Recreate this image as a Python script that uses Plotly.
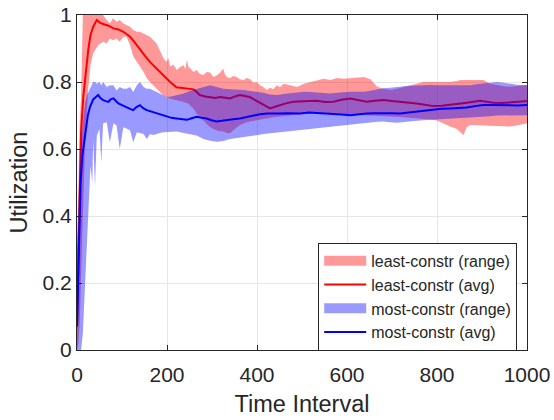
import plotly.graph_objects as go

# ---------------- data ----------------
red_avg_x = [0, 3, 6, 9, 14, 20, 25, 30, 36, 44, 50, 58, 70, 81, 92, 103, 118, 130, 140, 151, 162, 173,
             184, 196, 207, 221, 232, 244, 259, 266, 273, 285, 296, 307, 318, 329, 340, 351, 362, 373,
             384, 396, 407, 418, 429, 440, 451, 466, 481, 496, 515, 533, 551, 570, 588, 607, 625, 644,
             662, 681, 700, 718, 736, 755, 773, 792, 810, 829, 848, 866, 881, 896, 910, 925, 944, 962,
             981, 1000]
red_avg_y = [0.07, 0.30, 0.50, 0.65, 0.756, 0.84, 0.896, 0.94, 0.965, 0.985, 0.978, 0.973, 0.968, 0.96,
             0.957, 0.95, 0.935, 0.915, 0.896, 0.878, 0.86, 0.845, 0.83, 0.815, 0.80, 0.784, 0.782,
             0.781, 0.778, 0.770, 0.761, 0.757, 0.754, 0.752, 0.755, 0.753, 0.751, 0.757, 0.761, 0.758,
             0.755, 0.746, 0.737, 0.728, 0.721, 0.726, 0.731, 0.737, 0.741, 0.741, 0.743, 0.744, 0.740,
             0.741, 0.747, 0.751, 0.746, 0.741, 0.744, 0.746, 0.743, 0.741, 0.739, 0.736, 0.732, 0.728,
             0.729, 0.731, 0.735, 0.738, 0.742, 0.744, 0.741, 0.738, 0.737, 0.738, 0.741, 0.743]

blue_avg_x = [0, 2, 4, 6, 8, 12, 18, 24, 29, 36, 42, 47, 52, 58, 64, 70, 75, 81, 86, 92, 100, 110, 118,
              125, 132, 140, 147, 155, 166, 177, 188, 199, 210, 221, 233, 244, 255, 266, 277, 288, 299,
              310, 322, 333, 347, 362, 377, 392, 407, 422, 437, 451, 466, 481, 496, 515, 533, 551, 570,
              588, 607, 625, 644, 662, 681, 700, 718, 736, 755, 773, 792, 810, 829, 848, 866, 884, 903,
              922, 940, 960, 980, 1000]
blue_avg_y = [0.07, 0.20, 0.33, 0.42, 0.50, 0.58, 0.647, 0.70, 0.726, 0.748, 0.755, 0.761, 0.752, 0.746,
              0.743, 0.741, 0.748, 0.751, 0.744, 0.736, 0.731, 0.726, 0.720, 0.716, 0.725, 0.731, 0.722,
              0.716, 0.711, 0.706, 0.701, 0.696, 0.693, 0.691, 0.689, 0.687, 0.692, 0.696, 0.693, 0.691,
              0.686, 0.682, 0.684, 0.687, 0.689, 0.691, 0.696, 0.701, 0.704, 0.706, 0.705, 0.706, 0.707,
              0.706, 0.706, 0.709, 0.708, 0.707, 0.706, 0.703, 0.701, 0.704, 0.706, 0.707, 0.708, 0.707,
              0.706, 0.709, 0.711, 0.715, 0.718, 0.720, 0.721, 0.722, 0.724, 0.728, 0.731, 0.731, 0.730,
              0.731, 0.730, 0.731]

# (time, lower, upper)
red_range_rows = [
    (0, 0.00, 0.30), (3, 0.02, 0.55), (6, 0.08, 0.68), (9, 0.18, 0.75), (13, 0.40, 1.00),
    (18, 0.62, 1.00), (25, 0.78, 1.00), (30, 0.85, 1.00), (36, 0.886, 1.00), (47, 0.91, 1.00),
    (58, 0.92, 1.00), (66, 0.915, 0.985), (73, 0.93, 0.975), (80, 0.925, 0.99), (88, 0.93, 0.98),
    (95, 0.92, 0.985), (103, 0.935, 0.975), (110, 0.935, 0.97), (118, 0.91, 0.965), (125, 0.876, 0.955),
    (133, 0.86, 0.95), (140, 0.846, 0.95), (148, 0.83, 0.945), (155, 0.811, 0.94), (162, 0.80, 0.935),
    (170, 0.79, 0.925), (177, 0.781, 0.915), (184, 0.77, 0.895), (192, 0.76, 0.871), (199, 0.756, 0.86),
    (203, 0.754, 0.872), (207, 0.75, 0.846), (214, 0.748, 0.852), (222, 0.746, 0.836), (229, 0.743, 0.845),
    (237, 0.74, 0.85), (241, 0.739, 0.838), (244, 0.737, 0.866), (248, 0.735, 0.845), (252, 0.73, 0.84),
    (259, 0.72, 0.83), (266, 0.706, 0.836), (273, 0.695, 0.824), (281, 0.685, 0.821), (288, 0.675, 0.83),
    (296, 0.665, 0.828), (303, 0.66, 0.815), (311, 0.655, 0.82), (318, 0.653, 0.828), (325, 0.652, 0.84),
    (329, 0.650, 0.822), (333, 0.648, 0.815), (340, 0.647, 0.811), (347, 0.655, 0.818), (355, 0.665, 0.815),
    (362, 0.672, 0.808), (370, 0.677, 0.806), (377, 0.680, 0.812), (385, 0.682, 0.808), (392, 0.684, 0.798),
    (399, 0.685, 0.80), (407, 0.686, 0.79), (414, 0.688, 0.785), (422, 0.691, 0.776), (429, 0.693, 0.783),
    (436, 0.695, 0.778), (444, 0.697, 0.79), (451, 0.699, 0.784), (459, 0.70, 0.795), (474, 0.702, 0.79),
    (489, 0.703, 0.785), (504, 0.705, 0.795), (518, 0.707, 0.80), (533, 0.706, 0.805), (548, 0.704, 0.81),
    (563, 0.706, 0.806), (578, 0.705, 0.812), (593, 0.703, 0.81), (607, 0.701, 0.811), (622, 0.702, 0.813),
    (637, 0.701, 0.815), (652, 0.70, 0.808), (667, 0.699, 0.786), (681, 0.698, 0.78), (696, 0.697, 0.776),
    (711, 0.696, 0.78), (726, 0.695, 0.785), (741, 0.694, 0.791), (755, 0.692, 0.795), (770, 0.690, 0.80),
    (785, 0.688, 0.80), (800, 0.685, 0.80), (814, 0.676, 0.802), (829, 0.667, 0.80), (844, 0.66, 0.803),
    (852, 0.65, 0.806), (859, 0.642, 0.806), (866, 0.665, 0.806), (874, 0.672, 0.807), (888, 0.673, 0.808),
    (903, 0.672, 0.806), (918, 0.671, 0.795), (933, 0.669, 0.79), (948, 0.668, 0.787), (962, 0.667, 0.786),
    (977, 0.670, 0.788), (992, 0.674, 0.791), (1000, 0.677, 0.791),
]

blue_range_rows = [
    (0, 0.00, 0.30), (3, 0.00, 0.45), (6, 0.00, 0.55), (9, 0.00, 0.62), (13, 0.05, 0.68),
    (18, 0.20, 0.74), (22, 0.30, 0.76), (25, 0.42, 0.77), (30, 0.55, 0.785), (34, 0.50, 0.80),
    (36, 0.627, 0.801), (40, 0.487, 0.80), (44, 0.64, 0.795), (50, 0.66, 0.80), (54, 0.56, 0.79),
    (58, 0.677, 0.80), (66, 0.68, 0.785), (73, 0.62, 0.79), (81, 0.677, 0.79), (88, 0.67, 0.775),
    (95, 0.60, 0.785), (103, 0.665, 0.78), (110, 0.661, 0.78), (118, 0.655, 0.785), (125, 0.62, 0.77),
    (133, 0.65, 0.79), (140, 0.647, 0.80), (148, 0.645, 0.785), (155, 0.63, 0.78), (162, 0.644, 0.78),
    (170, 0.642, 0.775), (177, 0.645, 0.77), (184, 0.648, 0.766), (192, 0.65, 0.76), (199, 0.652, 0.756),
    (207, 0.652, 0.756), (222, 0.652, 0.76), (237, 0.648, 0.766), (252, 0.643, 0.774), (266, 0.640, 0.78),
    (281, 0.630, 0.785), (296, 0.625, 0.79), (311, 0.622, 0.785), (325, 0.624, 0.78), (340, 0.630, 0.778),
    (355, 0.633, 0.778), (370, 0.636, 0.776), (385, 0.638, 0.773), (399, 0.641, 0.771), (414, 0.645, 0.768),
    (429, 0.647, 0.763), (444, 0.649, 0.761), (459, 0.651, 0.764), (474, 0.653, 0.766), (489, 0.656, 0.77),
    (504, 0.658, 0.771), (518, 0.661, 0.77), (533, 0.663, 0.768), (548, 0.665, 0.767), (563, 0.667, 0.766),
    (578, 0.669, 0.768), (593, 0.671, 0.770), (607, 0.673, 0.771), (622, 0.675, 0.771), (637, 0.677, 0.771),
    (652, 0.679, 0.774), (667, 0.681, 0.778), (681, 0.682, 0.781), (696, 0.680, 0.783), (711, 0.678, 0.786),
    (726, 0.679, 0.787), (741, 0.682, 0.789), (755, 0.684, 0.79), (770, 0.686, 0.791), (785, 0.687, 0.791),
    (800, 0.688, 0.790), (814, 0.690, 0.790), (829, 0.691, 0.789), (844, 0.693, 0.789), (859, 0.694, 0.789),
    (874, 0.695, 0.790), (888, 0.696, 0.793), (903, 0.697, 0.796), (918, 0.698, 0.798), (933, 0.700, 0.80),
    (948, 0.701, 0.798), (962, 0.701, 0.795), (977, 0.701, 0.792), (992, 0.701, 0.791), (1000, 0.701, 0.791),
]

x_ticks = [0, 200, 400, 600, 800, 1000]
y_ticks = [0, 0.2, 0.4, 0.6, 0.8, 1]
x_tick_labels = ["0", "200", "400", "600", "800", "1000"]
y_tick_labels = ["0", "0.2", "0.4", "0.6", "0.8", "1"]

names = ["least-constr (range)", "least-constr (avg)", "most-constr (range)", "most-constr (avg)"]

RED_FILL = "rgba(255,0,0,0.4)"
BLUE_FILL = "rgba(0,0,255,0.4)"


def band(rows):
    xs = [r[0] for r in rows]
    lo = [r[1] for r in rows]
    hi = [r[2] for r in rows]
    return xs + xs[::-1], hi + lo[::-1]


FONT = "Liberation Sans, Arial, Helvetica, sans-serif"

fig = go.Figure()
bx, by = band(red_range_rows)
fig.add_trace(go.Scatter(x=bx, y=by, fill="toself", fillcolor=RED_FILL,
                         mode="lines", line=dict(width=0, color=RED_FILL),
                         name=names[0], legendgroup="r", showlegend=False, hoverinfo="skip"))
# legend swatch for the range (a wide bar like the reference's patch)
fig.add_trace(go.Scatter(x=[None], y=[None], mode="lines", line=dict(width=15, color=RED_FILL),
                         name=names[0], legendgroup="r", legendrank=1))
fig.add_trace(go.Scatter(x=red_avg_x, y=red_avg_y, mode="lines",
                         line=dict(color="#ff0000", width=2), name=names[1], legendrank=2))
bx, by = band(blue_range_rows)
fig.add_trace(go.Scatter(x=bx, y=by, fill="toself", fillcolor=BLUE_FILL,
                         mode="lines", line=dict(width=0, color=BLUE_FILL),
                         name=names[2], legendgroup="b", showlegend=False, hoverinfo="skip"))
fig.add_trace(go.Scatter(x=[None], y=[None], mode="lines", line=dict(width=15, color=BLUE_FILL),
                         name=names[2], legendgroup="b", legendrank=3))
fig.add_trace(go.Scatter(x=blue_avg_x, y=blue_avg_y, mode="lines",
                         line=dict(color="#0000ff", width=2), name=names[3], legendrank=4))

axis_common = dict(
    showline=True, linecolor="#262626", linewidth=1, mirror="ticks",
    ticks="inside", ticklen=5, tickcolor="#262626",
    showgrid=True, gridcolor="#e6e6e6", gridwidth=1, zeroline=False,
    tickfont=dict(family=FONT, size=21, color="#262626"),
    automargin=False,
)

fig.update_layout(
    width=554, height=420,
    margin=dict(l=77, r=27, t=15, b=70, autoexpand=False),
    paper_bgcolor="white", plot_bgcolor="white",
    font=dict(family=FONT, color="#262626"),
    xaxis=dict(range=[0, 1000], tickvals=x_ticks, ticktext=x_tick_labels,
               ticklabelstandoff=6,
               title=dict(text="Time Interval", font=dict(family=FONT, size=23.5, color="#262626"),
                          standoff=10),
               **axis_common),
    yaxis=dict(range=[0, 1], tickvals=y_ticks, ticktext=y_tick_labels,
               title=dict(text="Utilization", font=dict(family=FONT, size=23.5, color="#262626"),
                          standoff=8),
               **axis_common),
    legend=dict(x=0.536, y=0.32, xanchor="left", yanchor="top",
                bgcolor="white", bordercolor="#262626", borderwidth=1,
                font=dict(family=FONT, size=16, color="#262626"),
                itemwidth=42, tracegroupgap=0, traceorder="normal"),
    showlegend=True,
)

fig.write_html("out.html")
